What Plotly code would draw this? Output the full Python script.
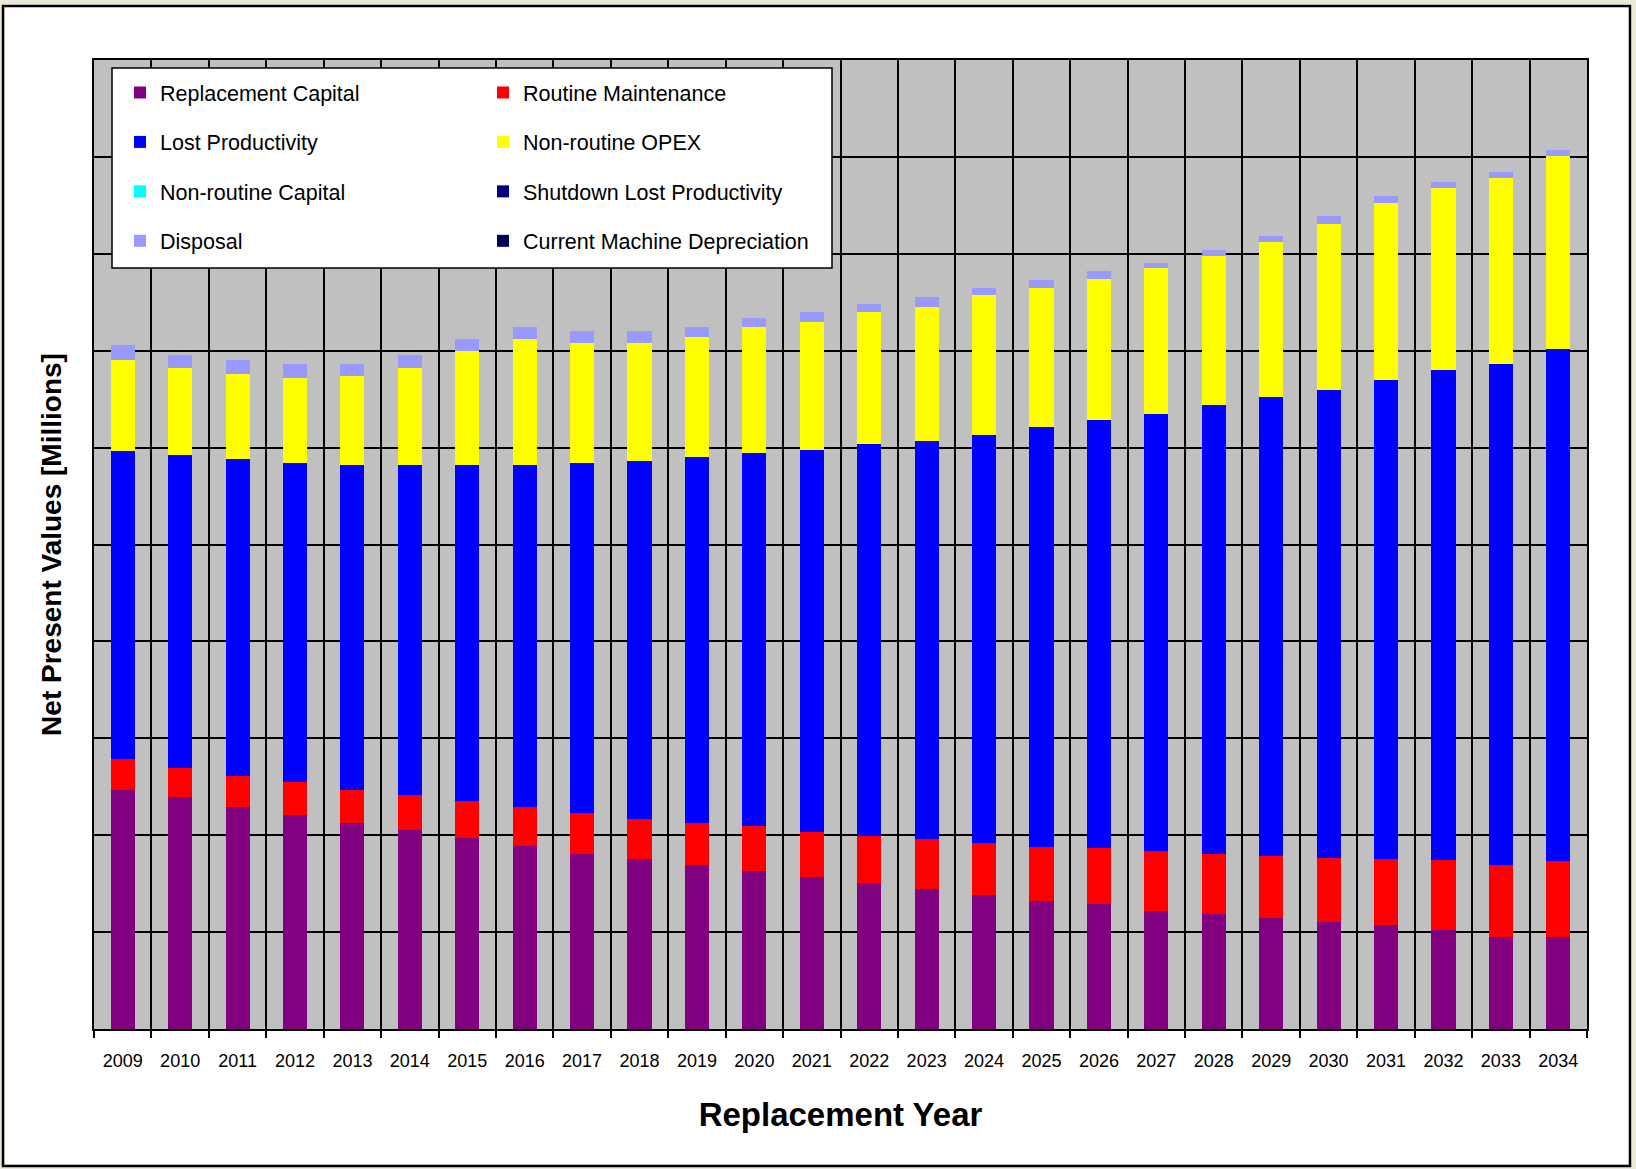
import plotly.graph_objects as go

# ---------------- data (in gridline units) ----------------
years = [str(y) for y in range(2009, 2035)]

replacement_capital = [2.47, 2.39, 2.29, 2.21, 2.13, 2.05, 1.97, 1.89, 1.81, 1.75, 1.69, 1.63, 1.57,
                       1.51, 1.44, 1.38, 1.32, 1.29, 1.22, 1.19, 1.15, 1.10, 1.07, 1.02, 0.95, 0.95]
routine_maintenance = [0.32, 0.30, 0.32, 0.34, 0.34, 0.36, 0.38, 0.40, 0.42, 0.42, 0.44, 0.46, 0.46,
                       0.48, 0.52, 0.54, 0.56, 0.58, 0.62, 0.62, 0.64, 0.66, 0.68, 0.72, 0.74, 0.78]
lost_productivity = [3.17, 3.23, 3.27, 3.29, 3.35, 3.41, 3.47, 3.53, 3.61, 3.69, 3.77, 3.85, 3.95,
                     4.05, 4.11, 4.21, 4.33, 4.41, 4.51, 4.63, 4.73, 4.83, 4.95, 5.06, 5.17, 5.29]
nonroutine_opex = [0.94, 0.90, 0.88, 0.88, 0.92, 1.00, 1.18, 1.30, 1.24, 1.22, 1.24, 1.30, 1.32,
                   1.36, 1.38, 1.44, 1.44, 1.46, 1.50, 1.54, 1.60, 1.72, 1.82, 1.88, 1.92, 1.99]
nonroutine_capital = [0.0] * 26
shutdown_lost_productivity = [0.0] * 26
disposal = [0.16, 0.14, 0.14, 0.14, 0.12, 0.14, 0.12, 0.12, 0.12, 0.12, 0.10, 0.10, 0.10,
            0.08, 0.10, 0.08, 0.08, 0.08, 0.06, 0.06, 0.06, 0.08, 0.08, 0.06, 0.06, 0.06]
current_machine_depreciation = [0.0] * 26

series = [
    ("Replacement Capital", replacement_capital, "#800080", "legend"),
    ("Routine Maintenance", routine_maintenance, "#FF0000", "legend2"),
    ("Lost Productivity", lost_productivity, "#0000FF", "legend"),
    ("Non-routine OPEX", nonroutine_opex, "#FFFF00", "legend2"),
    ("Non-routine Capital", nonroutine_capital, "#00FFFF", "legend"),
    ("Shutdown Lost Productivity", shutdown_lost_productivity, "#000080", "legend2"),
    ("Disposal", disposal, "#9999FF", "legend"),
    ("Current Machine Depreciation", current_machine_depreciation, "#00005A", "legend2"),
]

# ---------------- layout geometry (pixels) ----------------
W, H = 1636, 1169
L, R, T, B = 94, 49, 60, 140
PW, PH = W - L - R, H - T - B


def px_x(px):
    return (px - L) / PW


def px_y(py):
    return (H - B - py) / PH


FONT = "Liberation Sans, Arial, sans-serif"

fig = go.Figure()
for i, (name, vals, color, leg) in enumerate(series):
    fig.add_trace(go.Bar(
        x=years, y=vals, name=name,
        marker=dict(color=color, line=dict(width=0)),
        legend=leg, legendgroup=name,
    ))

shapes = [
    # light outer strip
    dict(type="rect", xref="paper", yref="paper",
         x0=px_x(0), x1=px_x(W), y0=px_y(H), y1=px_y(0),
         line=dict(color="#ECE9D8", width=9), fillcolor="rgba(0,0,0,0)", layer="below"),
    # chart frame
    dict(type="rect", xref="paper", yref="paper",
         x0=px_x(3), x1=px_x(1630), y0=px_y(1166), y1=px_y(6),
         line=dict(color="black", width=2.5), fillcolor="rgba(0,0,0,0)", layer="below"),
    # legend box
    dict(type="rect", xref="paper", yref="paper",
         x0=px_x(112), x1=px_x(832), y0=px_y(268), y1=px_y(68),
         line=dict(color="black", width=1.5), fillcolor="white", layer="above"),
]

legend_common = dict(
    bgcolor="rgba(0,0,0,0)", borderwidth=0,
    font=dict(family=FONT, size=21.5, color="black"),
    traceorder="grouped", tracegroupgap=18.5,
    orientation="v", xanchor="left", yanchor="top",
)

fig.update_layout(
    width=W, height=H,
    margin=dict(l=L, r=R, t=T, b=B, autoexpand=False),
    paper_bgcolor="white",
    plot_bgcolor="#C0C0C0",
    barmode="stack",
    bargap=0.58,
    showlegend=True,
    legend=dict(x=px_x(120), y=px_y(72), **legend_common),
    legend2=dict(x=px_x(483), y=px_y(72), **legend_common),
    shapes=shapes,
    font=dict(family=FONT, color="black"),
    xaxis=dict(
        type="category",
        tickson="boundaries",
        ticks="outside", ticklen=7, tickwidth=1.5, tickcolor="black",
        showgrid=True, gridcolor="black", gridwidth=1.5,
        showline=True, linecolor="black", linewidth=1.5, mirror=True,
        tickfont=dict(family=FONT, size=18, color="black"),
        ticklabelstandoff=15,
        title=dict(text="<b>Replacement Year</b>", font=dict(family=FONT, size=33, color="black"),
                   standoff=33),
        automargin=False,
    ),
    yaxis=dict(
        range=[0, 10], dtick=1, tick0=0,
        showticklabels=False, ticks="",
        showgrid=True, gridcolor="black", gridwidth=1.5,
        zeroline=False,
        showline=True, linecolor="black", linewidth=1.5, mirror=True,
        title=dict(text="<b>Net Present Values [Millions]</b>",
                   font=dict(family=FONT, size=28, color="black"), standoff=22),
        automargin=False,
    ),
)

fig.write_html(
    "out.html",
    config={"displayModeBar": False},
    post_script="document.body.style.margin='0px'; document.body.style.overflow='hidden';",
)
